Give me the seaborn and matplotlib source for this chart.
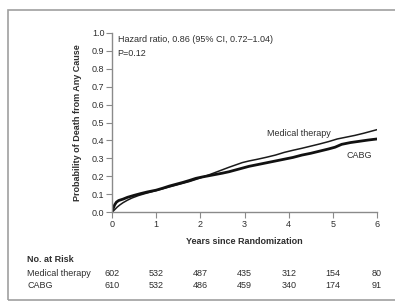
import numpy as np
import pandas as pd
import matplotlib
matplotlib.use('Agg')
import matplotlib.pyplot as plt
import matplotlib.transforms as mtransforms
from matplotlib.patches import Rectangle
import seaborn as sns

# Kaplan-Meier curves
t_med = [0, 0.04, 0.08, 0.12, 0.18, 0.25, 0.35, 0.45, 0.6, 0.75, 0.9, 1.0, 1.15, 1.3,
         1.45, 1.6, 1.75, 1.9, 2.05, 2.2, 2.35, 2.5, 2.65, 2.8, 2.95, 3.1, 3.3, 3.5,
         3.7, 3.9, 4.1, 4.3, 4.5, 4.7, 4.9, 5.1, 5.3, 5.5, 5.7, 5.85, 6.0]
p_med = [0, 0.008, 0.018, 0.028, 0.040, 0.052, 0.066, 0.078, 0.092, 0.103, 0.113, 0.120,
         0.130, 0.140, 0.150, 0.160, 0.170, 0.182, 0.195, 0.208, 0.222, 0.236, 0.250,
         0.263, 0.276, 0.285, 0.295, 0.306, 0.318, 0.333, 0.345, 0.356, 0.368, 0.380,
         0.393, 0.408, 0.418, 0.428, 0.440, 0.450, 0.460]
t_cabg = [0, 0.03, 0.06, 0.1, 0.15, 0.25, 0.35, 0.5, 0.65, 0.8, 1.0, 1.15, 1.3, 1.45,
          1.6, 1.75, 1.9, 2.05, 2.2, 2.35, 2.5, 2.65, 2.8, 2.95, 3.1, 3.3, 3.5, 3.7,
          3.9, 4.1, 4.3, 4.5, 4.7, 4.9, 5.05, 5.2, 5.4, 5.6, 5.8, 6.0]
p_cabg = [0, 0.022, 0.040, 0.055, 0.064, 0.072, 0.082, 0.093, 0.103, 0.112, 0.122, 0.133,
          0.145, 0.155, 0.165, 0.176, 0.188, 0.196, 0.203, 0.210, 0.217, 0.225, 0.235,
          0.245, 0.255, 0.265, 0.275, 0.285, 0.295, 0.305, 0.318, 0.328, 0.340, 0.352,
          0.362, 0.378, 0.388, 0.395, 0.402, 0.408]

years = [0, 1, 2, 3, 4, 5, 6]
risk_med = [602, 532, 487, 435, 312, 154, 80]
risk_cabg = [610, 532, 486, 459, 340, 174, 91]

sns.set_style("white")
plt.rcParams['font.family'] = ['Liberation Sans', 'DejaVu Sans']
txt = '#2e2e2e'
axc = '#8a8a8a'

fig = plt.figure(figsize=(3.95, 3.02), dpi=100)
ax = fig.add_axes([112/395, 1-212/302, 265/395, 179/302])

sns.lineplot(x=t_med, y=p_med, ax=ax, color='#1a1a1a', linewidth=1.1,
             estimator=None, sort=False)
sns.lineplot(x=t_cabg, y=p_cabg, ax=ax, color='#111111', linewidth=2.0,
             estimator=None, sort=False)

ax.set_xlim(0, 6)
ax.set_ylim(0, 1.0)
ax.set_xticks(years)
ax.set_yticks(np.arange(0, 1.01, 0.1))
ax.set_yticklabels([f'{v:.1f}' for v in np.arange(0, 1.01, 0.1)])
sns.despine(ax=ax)
for s in ['left', 'bottom']:
    ax.spines[s].set_color(axc)
    ax.spines[s].set_linewidth(1.0)
ax.tick_params(axis='both', direction='out', length=4, width=0.8, color=axc,
               labelsize=6.5, labelcolor=txt, pad=1.5)
ax.tick_params(axis='y', left=True)
ax.tick_params(axis='x', bottom=True)
ax.set_xlabel('Years since Randomization', fontsize=6.5, fontweight='bold', color=txt, labelpad=6)
ax.set_ylabel('Probability of Death from Any Cause', fontsize=6.5, fontweight='bold', color=txt, labelpad=7)

ax.text(0.13, 0.965, 'Hazard ratio, 0.86 (95% CI, 0.72\u20131.04)', fontsize=6.5, color=txt, va='center')
ax.text(0.13, 0.885, 'P=0.12', fontsize=6.5, color=txt, va='center')
ax.text(4.23, 0.44, 'Medical therapy', fontsize=6.5, color=txt, ha='center', va='center')
ax.text(5.6, 0.313, 'CABG', fontsize=6.5, color=txt, ha='center', va='center')

# number at risk table
tr = mtransforms.blended_transform_factory(ax.transData, fig.transFigure)
fig.text(27/395, 1-260/302, 'No. at Risk', fontsize=6.5, fontweight='bold', color=txt, va='center')
fig.text(27/395, 1-274/302, 'Medical therapy', fontsize=6.5, color=txt, va='center')
fig.text(27/395, 1-285/302, 'CABG', fontsize=6.5, color=txt, va='center')
for x, a, b in zip(years, risk_med, risk_cabg):
    ax.text(x, 1-274/302, str(a), transform=tr, fontsize=6.5, color=txt, ha='center', va='center')
    ax.text(x, 1-285/302, str(b), transform=tr, fontsize=6.5, color=txt, ha='center', va='center')

# grey frame around the figure (open at the right edge)
fig.patches.append(Rectangle((8/395, 2/302), 1.0, 1-12/302, transform=fig.transFigure,
                             fill=False, edgecolor='#a0a0a0', linewidth=1.2))

fig.savefig('out.png', dpi=100)
